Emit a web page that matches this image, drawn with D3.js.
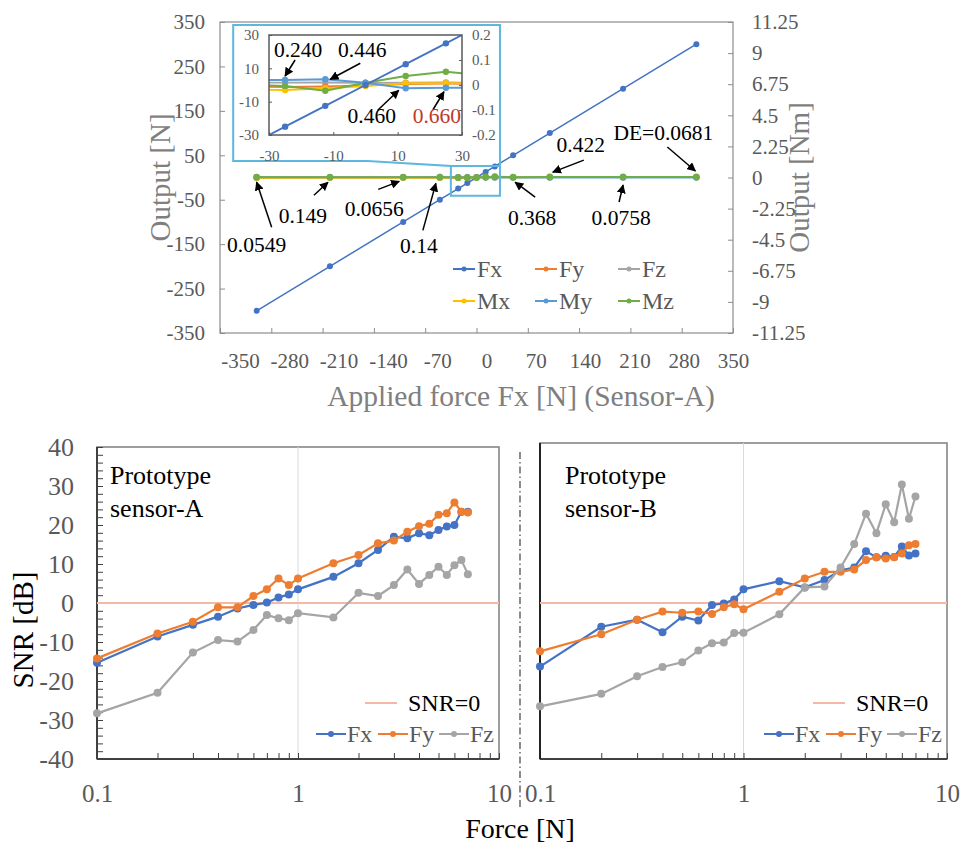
<!DOCTYPE html>
<html>
<head>
<meta charset="utf-8">
<script src="https://cdn.jsdelivr.net/npm/d3@7"></script>
<style>
  body { margin: 0; background: #fff; }
  svg text { font-family: "Liberation Serif", "Times New Roman", serif; }
</style>
</head>
<body>
<svg id="fig" width="960" height="844"></svg>
<script>
// ---------- data: calibration test (top chart) ----------
const forceApplied = [-300, -200, -100, -50, -25, -12.5, 0, 12.5, 25, 50, 100, 200, 300];
const outFx = [-300, -200, -100, -50, -25, -12.5, 0, 12.5, 25, 50, 100, 200, 300];
const outFy = [-0.8, -0.6, -0.4, -0.6, -1.2, -0.9, -0.2, 0.6, 0.8, 0.5, 0.4, 0.6, 0.7];
const outFz = [1.2, 1.0, 1.3, 1.5, 1.4, 1.5, 1.3, 1.4, 1.5, 1.3, 1.2, 1.1, 1.3];
const outMx = [-0.03, -0.025, -0.02, -0.018, -0.02, -0.013, -0.004, 0.007, 0.007, 0.008, 0.01, 0.015, 0.02];
const outMy = [0.03, 0.025, 0.02, 0.02, 0.02, 0.023, 0.009, -0.013, -0.011, -0.011, -0.015, -0.02, -0.025];
const outMz = [0.02, 0.015, 0.01, 0.01, -0.004, -0.023, 0.009, 0.036, 0.053, 0.023, 0.03, 0.035, 0.04];

const topXTicks = [-350, -280, -210, -140, -70, 0, 70, 140, 210, 280, 350];
const topYTicks = [350, 250, 150, 50, -50, -150, -250, -350];
const topYRTicks = [11.25, 9, 6.75, 4.5, 2.25, 0, -2.25, -4.5, -6.75, -9, -11.25];
const insetXTicks = [-30, -10, 10, 30];
const insetYTicks = [30, 10, -10, -30];
const insetYRTicks = [0.2, 0.1, 0, -0.1, -0.2];

// crosstalk (DE) labels on the main chart and in the zoomed inset
const deLabels = ["0.0549", "0.149", "0.0656", "0.14", "0.368", "0.422", "0.0758", "DE=0.0681"];
const deAt = [-300, -200, -100, -50, 50, 100, 200, 300];
const insetLabels = ["0.240", "0.446", "0.460", "0.660"];
const insetAt = [-25, -12.5, 12.5, 25];

// ---------- data: SNR (bottom charts) ----------
const snrForce = [0.1, 0.2, 0.3, 0.4, 0.5, 0.6, 0.7, 0.8, 0.9, 1, 1.5, 2, 2.5, 3, 3.5, 4, 4.5, 5, 5.5, 6, 6.5, 7];
const snrA_Fx = [-15.3, -8.6, -5.6, -3.5, -1.4, -0.5, 0.1, 1.4, 2.2, 3.5, 6.7, 10.2, 13.6, 17.0, 16.6, 17.9, 17.4, 18.7, 19.6, 20.0, 23.4, 23.4];
const snrA_Fy = [-14.2, -7.8, -4.8, -1.1, -1.1, 1.8, 3.5, 6.3, 4.6, 6.3, 10.2, 12.3, 15.3, 16.0, 18.3, 19.7, 20.3, 22.6, 23.0, 25.8, 23.4, 23.2];
const snrA_Fz = [-28.3, -23.0, -12.7, -9.5, -9.9, -6.9, -3.1, -3.9, -4.4, -2.6, -3.7, 2.6, 1.8, 4.6, 8.6, 4.9, 7.2, 9.3, 7.2, 9.7, 11.0, 7.4];
const snrB_Fx = [-16.3, -6.1, -4.3, -7.5, -3.5, -4.5, -0.5, -0.1, 0.9, 3.5, 5.6, 4.0, 5.9, 8.4, 9.1, 13.3, 11.7, 12.1, 11.8, 14.5, 12.2, 12.7];
const snrB_Fy = [-12.4, -8.0, -4.3, -2.2, -2.5, -2.2, -2.8, -1.1, -0.3, -1.6, 2.9, 6.3, 8.0, 8.0, 8.6, 11.0, 11.7, 11.4, 11.7, 12.7, 14.8, 15.1];
const snrB_Fz = [-26.5, -23.3, -18.8, -16.4, -15.2, -12.2, -10.3, -10.1, -7.7, -7.6, -2.9, 4.0, 4.2, 9.1, 15.1, 22.9, 17.9, 25.3, 20.7, 30.4, 21.6, 27.3];
const snrXLabels = [0.1, 1, 10];
const snrYTicks = [40, 30, 20, 10, 0, -10, -20, -30, -40];

const colors = { Fx: "#4472C4", Fy: "#ED7D31", Fz: "#A5A5A5", Mx: "#FFC000", My: "#5B9BD5", Mz: "#70AD47" };
const serif = '"Liberation Serif", "Times New Roman", serif';

const svg = d3.select("#fig");

// arrow head
svg.append("defs").append("marker")
    .attr("id", "arrow")
    .attr("viewBox", "0 0 10 10")
    .attr("refX", 9).attr("refY", 5)
    .attr("markerWidth", 6).attr("markerHeight", 6)
    .attr("orient", "auto")
  .append("path")
    .attr("d", "M0,0L10,5L0,10z")
    .attr("fill", "#000");

function styleAxis(g, size, color, tickColor) {
    g.attr("font-family", serif).attr("font-size", size);
    g.select(".domain").remove();
    g.selectAll(".tick line").attr("stroke", tickColor || "#8c8c8c");
    g.selectAll(".tick text").attr("fill", color);
}

function drawSeries(g, xs, ys, xScale, yScale, color, lw, r) {
    const pts = xs.map((v, i) => [xScale(v), yScale(ys[i])]);
    g.append("path")
        .attr("d", d3.line()(pts))
        .attr("fill", "none")
        .attr("stroke", color)
        .attr("stroke-width", lw);
    g.selectAll(null)
        .data(pts)
        .join("circle")
        .attr("cx", d => d[0])
        .attr("cy", d => d[1])
        .attr("r", r)
        .attr("fill", color);
}

function arrow(g, x1, y1, x2, y2) {
    g.append("line")
        .attr("x1", x1).attr("y1", y1).attr("x2", x2).attr("y2", y2)
        .attr("stroke", "#000").attr("stroke-width", 1.5)
        .attr("marker-end", "url(#arrow)");
}

// ================= top chart =================
const T = { l: 220, r: 733, t: 22, b: 333 };
const x = d3.scaleLinear().domain([-350, 350]).range([T.l, T.r]);
// the printed x labels sit slightly to the right of their tick marks
const xLab = d3.scaleLinear().domain([-350, 350]).range([240, 733]);
const yN = d3.scaleLinear().domain([-350, 350]).range([T.b, T.t]);
const yNm = d3.scaleLinear().domain([-11.25, 11.25]).range([T.b, T.t]);

const gTop = svg.append("g");

gTop.append("rect")
    .attr("x", T.l).attr("y", T.t)
    .attr("width", T.r - T.l).attr("height", T.b - T.t)
    .attr("fill", "none").attr("stroke", "#8c8c8c").attr("stroke-width", 1.2);

gTop.append("g")
    .attr("transform", `translate(${T.l},0)`)
    .call(d3.axisLeft(yN).tickValues(topYTicks).tickSize(-5).tickPadding(15).tickFormat(d => String(d)))
    .call(g => styleAxis(g, 21, "#595959"));

gTop.append("g")
    .attr("transform", `translate(${T.r},0)`)
    .call(d3.axisRight(yNm).tickValues(topYRTicks).tickSize(-5).tickPadding(19).tickFormat(d => String(d)))
    .call(g => styleAxis(g, 21, "#595959"));

gTop.append("g")
    .attr("transform", `translate(0,${T.b})`)
    .call(d3.axisBottom(x).tickValues(topXTicks).tickSize(-5).tickFormat(""))
    .call(g => styleAxis(g, 21, "#595959"));
gTop.append("g")
    .attr("transform", `translate(0,${T.b})`)
    .call(d3.axisBottom(xLab).tickValues(topXTicks).tickSize(0).tickPadding(20).tickFormat(d => String(d)))
    .call(g => styleAxis(g, 21, "#595959"));

// axis titles
gTop.append("text")
    .attr("transform", `translate(170,${(T.t + T.b) / 2}) rotate(-90)`)
    .attr("text-anchor", "middle")
    .attr("font-size", 29).attr("fill", "#7f7f7f")
    .text("Output [N]");
gTop.append("text")
    .attr("transform", `translate(809,${(T.t + T.b) / 2}) rotate(-90)`)
    .attr("text-anchor", "middle")
    .attr("font-size", 29).attr("fill", "#7f7f7f")
    .text("Output [Nm]");
gTop.append("text")
    .attr("x", 521).attr("y", 406)
    .attr("text-anchor", "middle")
    .attr("font-size", 29.5).attr("fill", "#7f7f7f")
    .text("Applied force Fx [N] (Sensor-A)");

const topSeries = [
    { name: "Fx", values: outFx, scale: yN },
    { name: "Fy", values: outFy, scale: yN },
    { name: "Fz", values: outFz, scale: yN },
    { name: "Mx", values: outMx, scale: yNm },
    { name: "My", values: outMy, scale: yNm },
    { name: "Mz", values: outMz, scale: yNm }
];

topSeries.forEach(s => {
    const big = s.name === "Mz";
    drawSeries(gTop, forceApplied, s.values, x, s.scale, colors[s.name], big ? 2 : 1.5, big ? 3.5 : 3);
});

// legend
const legCols = [453, 535, 618], legRows = [269, 301];
topSeries.forEach((s, i) => {
    const lx = legCols[i % 3], ly = legRows[Math.floor(i / 3)];
    gTop.append("line")
        .attr("x1", lx).attr("x2", lx + 22).attr("y1", ly).attr("y2", ly)
        .attr("stroke", colors[s.name]).attr("stroke-width", 2);
    gTop.append("circle").attr("cx", lx + 11).attr("cy", ly).attr("r", 2.5).attr("fill", colors[s.name]);
    gTop.append("text")
        .attr("x", lx + 24).attr("y", ly).attr("dy", "0.35em")
        .attr("font-size", 24).attr("fill", "#595959")
        .text(s.name);
});

// DE annotations on the Mz line
const deOffsets = [
    { head: [0, 5], tail: [15, 50], text: [0, 75] },
    { head: [-2, 5], tail: [-16, 18], text: [-27, 46] },
    { head: [-4, 4], tail: [-25, 12], text: [-29, 39] },
    { head: [-4, 6], tail: [-17, 53], text: [-21, 76] },
    { head: [2, 5], tail: [22, 20], text: [19, 48] },
    { head: [3, -5], tail: [34, -17], text: [31, -25] },
    { head: [0, 8], tail: [-4, 25], text: [-2, 48] },
    { head: [-1, -6], tail: [-29, -30], text: [-33, -37] }
];
deLabels.forEach((lab, i) => {
    const k = forceApplied.indexOf(deAt[i]);
    const px = x(deAt[i]), py = yNm(outMz[k]);
    const o = deOffsets[i];
    arrow(gTop, px + o.tail[0], py + o.tail[1], px + o.head[0], py + o.head[1]);
    gTop.append("text")
        .attr("x", px + o.text[0]).attr("y", py + o.text[1])
        .attr("text-anchor", "middle")
        .attr("font-size", 21.5).attr("fill", "#000")
        .text(lab);
});

// callout box linking the zoomed region to the inset
const zoomBox = { x0: -35, x1: 32, y0: -41, y1: 26 };
const calloutBox = { x0: -332, x1: 32, y0: 37, y1: 343, neck: -149 };
const cyan = "#5DB7DE";
gTop.append("rect")
    .attr("x", x(calloutBox.x0)).attr("y", yN(calloutBox.y1))
    .attr("width", x(calloutBox.x1) - x(calloutBox.x0))
    .attr("height", yN(calloutBox.y0) - yN(calloutBox.y1))
    .attr("fill", "#fff");
const cp = d3.path();
cp.moveTo(x(calloutBox.neck), yN(calloutBox.y0));
cp.lineTo(x(calloutBox.x0), yN(calloutBox.y0));
cp.lineTo(x(calloutBox.x0), yN(calloutBox.y1));
cp.lineTo(x(calloutBox.x1), yN(calloutBox.y1));
cp.lineTo(x(zoomBox.x1), yN(zoomBox.y0));
cp.lineTo(x(zoomBox.x0), yN(zoomBox.y0));
cp.lineTo(x(zoomBox.x0), yN(zoomBox.y1));
cp.lineTo(x(calloutBox.neck), yN(calloutBox.y0));
cp.moveTo(x(zoomBox.x0), yN(zoomBox.y1));
cp.lineTo(x(zoomBox.x1), yN(zoomBox.y1));
gTop.append("path")
    .attr("d", cp.toString())
    .attr("fill", "none").attr("stroke", cyan).attr("stroke-width", 2);

// ---------- inset ----------
const I = { l: 269, r: 462, t: 35, b: 135 };
const xi = d3.scaleLinear().domain([-30, 30]).range([I.l, I.r]);
const yiN = d3.scaleLinear().domain([-30, 30]).range([I.b, I.t]);
const yiNm = d3.scaleLinear().domain([-0.2, 0.2]).range([I.b, I.t]);

svg.select("defs").append("clipPath").attr("id", "insetClip")
  .append("rect").attr("x", I.l).attr("y", I.t).attr("width", I.r - I.l).attr("height", I.b - I.t);

const gIn = svg.append("g");
gIn.append("g")
    .attr("transform", `translate(${I.l},0)`)
    .call(d3.axisLeft(yiN).tickValues(insetYTicks).tickSize(-3).tickPadding(10).tickFormat(d => String(d)))
    .call(g => styleAxis(g, 15, "#595959", "#595959"));
gIn.append("g")
    .attr("transform", `translate(${I.r},0)`)
    .call(d3.axisRight(yiNm).tickValues(insetYRTicks).tickSize(-3).tickPadding(10).tickFormat(d => String(d)))
    .call(g => styleAxis(g, 15, "#595959", "#595959"));
gIn.append("g")
    .attr("transform", `translate(0,${I.b})`)
    .call(d3.axisBottom(xi).tickValues(insetXTicks).tickSize(-3).tickPadding(15).tickFormat(d => String(d)))
    .call(g => styleAxis(g, 15, "#595959", "#595959"));

const gInData = gIn.append("g").attr("clip-path", "url(#insetClip)");
const insetOrder = ["Fz", "Fy", "Mx", "Mz", "My", "Fx"];
insetOrder.forEach(n => {
    const s = topSeries.find(d => d.name === n);
    drawSeries(gInData, forceApplied, s.values, xi, s.scale === yN ? yiN : yiNm, colors[n], 1.8, 3.2);
});
gIn.append("rect")
    .attr("x", I.l).attr("y", I.t).attr("width", I.r - I.l).attr("height", I.b - I.t)
    .attr("fill", "none").attr("stroke", "#595959").attr("stroke-width", 1.5);

const insetOffsets = [
    { head: [0, -4], tail: [10, -20], text: [13, -23] },
    { head: [5, 0], tail: [35, -16], text: [37, -22] },
    { head: [-7, 2], tail: [-28, 22], text: [-34, 35] },
    { head: [-2, 4], tail: [-13, 22], text: [-9, 35] }
];
insetLabels.forEach((lab, i) => {
    const k = forceApplied.indexOf(insetAt[i]);
    const px = xi(insetAt[i]), py = yiNm(outMy[k]);
    const o = insetOffsets[i];
    arrow(gIn, px + o.tail[0], py + o.tail[1], px + o.head[0], py + o.head[1]);
    gIn.append("text")
        .attr("x", px + o.text[0]).attr("y", py + o.text[1])
        .attr("text-anchor", "middle")
        .attr("font-size", 21.5)
        .attr("fill", i === 3 ? "#C0392B" : "#000")
        .text(lab);
});

// ================= bottom charts =================
function drawSnrPanel(p) {
    const xs = d3.scaleLog().domain([0.1, 10]).range([p.l, p.r]);
    const ys = d3.scaleLinear().domain([-40, 40]).range([759, 447]);
    const b = ys(-40);
    const g = svg.append("g");

    g.append("rect")
        .attr("x", p.l).attr("y", p.top).attr("width", p.r - p.l).attr("height", b - p.top)
        .attr("fill", "none").attr("stroke", "#7f7f7f").attr("stroke-width", 1.5);

    // grid at x = 1
    g.append("line")
        .attr("x1", xs(1)).attr("x2", xs(1)).attr("y1", p.top).attr("y2", b)
        .attr("stroke", "#d9d9d9").attr("stroke-width", 1);

    // minor / major x ticks
    g.append("g")
        .attr("transform", `translate(0,${b})`)
        .call(d3.axisBottom(xs).tickValues(xs.ticks()).tickSize(-6).tickFormat(""))
        .call(a => styleAxis(a, 25, "#595959", "#404040"));
    g.append("g")
        .attr("transform", `translate(0,${b})`)
        .call(d3.axisBottom(xs).tickValues(snrXLabels).tickSize(0).tickPadding(25).tickFormat(d => String(d)))
        .call(a => styleAxis(a, 25, "#595959"));

    if (p.yLabels) {
        g.append("g")
            .attr("transform", `translate(${p.l},0)`)
            .call(d3.axisLeft(ys).ticks(40).tickSize(-6).tickFormat(""))
            .call(a => styleAxis(a, 26, "#595959", "#404040"));
        g.append("g")
            .attr("transform", `translate(${p.l},0)`)
            .call(d3.axisLeft(ys).tickValues(snrYTicks).tickSize(0).tickPadding(23).tickFormat(d => String(d)))
            .call(a => styleAxis(a, 26, "#595959"));
    }

    // axis lines
    g.append("line").attr("x1", p.l).attr("x2", p.r).attr("y1", b).attr("y2", b)
        .attr("stroke", "#404040").attr("stroke-width", 2);
    g.append("line").attr("x1", p.l).attr("x2", p.l).attr("y1", p.top).attr("y2", b)
        .attr("stroke", p.yLabels ? "#404040" : "#222").attr("stroke-width", 2);

    // SNR = 0 reference
    g.append("line")
        .attr("x1", p.l).attr("x2", p.r).attr("y1", ys(0)).attr("y2", ys(0))
        .attr("stroke", "#F4B9A4").attr("stroke-width", 2);

    const series = [
        { name: "Fx", values: p.fx },
        { name: "Fy", values: p.fy },
        { name: "Fz", values: p.fz }
    ];
    series.forEach(s => drawSeries(g, snrForce, s.values, xs, ys, colors[s.name], 2.2, 4));

    // panel caption
    p.title.forEach((t, i) => {
        g.append("text")
            .attr("x", p.titleX).attr("y", 484 + i * 33)
            .attr("font-size", 26).attr("fill", "#000")
            .text(t);
    });

    // legend
    const off = p.r - 499;
    g.append("line")
        .attr("x1", 365 + off).attr("x2", 397 + off).attr("y1", 703).attr("y2", 703)
        .attr("stroke", "#F4B9A4").attr("stroke-width", 2);
    g.append("text")
        .attr("x", 408 + off).attr("y", 703).attr("dy", "0.35em")
        .attr("font-size", 24).attr("fill", "#000")
        .text("SNR=0");
    const legX = [316, 378, 439];
    series.forEach((s, i) => {
        const lx = legX[i] + off;
        g.append("line")
            .attr("x1", lx).attr("x2", lx + 30).attr("y1", 734).attr("y2", 734)
            .attr("stroke", colors[s.name]).attr("stroke-width", 2);
        g.append("circle").attr("cx", lx + 15).attr("cy", 734).attr("r", 3).attr("fill", colors[s.name]);
        g.append("text")
            .attr("x", lx + 31).attr("y", 734).attr("dy", "0.35em")
            .attr("font-size", 24).attr("fill", "#595959")
            .text(s.name);
    });
}

drawSnrPanel({
    l: 97, r: 499, top: 447, yLabels: true, titleX: 110,
    title: ["Prototype", "sensor-A"],
    fx: snrA_Fx, fy: snrA_Fy, fz: snrA_Fz
});
drawSnrPanel({
    l: 540, r: 947, top: 443, yLabels: false, titleX: 565,
    title: ["Prototype", "sensor-B"],
    fx: snrB_Fx, fy: snrB_Fy, fz: snrB_Fz
});

// separator and shared titles
svg.append("line")
    .attr("x1", 520).attr("x2", 520).attr("y1", 452).attr("y2", 808)
    .attr("stroke", "#404040").attr("stroke-width", 1.2)
    .attr("stroke-dasharray", "7,3,1.5,3");

svg.append("text")
    .attr("transform", "translate(33,630) rotate(-90)")
    .attr("text-anchor", "middle")
    .attr("font-size", 29).attr("fill", "#000")
    .text("SNR [dB]");
svg.append("text")
    .attr("x", 520).attr("y", 838)
    .attr("text-anchor", "middle")
    .attr("font-size", 28).attr("fill", "#000")
    .text("Force [N]");
</script>
</body>
</html>
